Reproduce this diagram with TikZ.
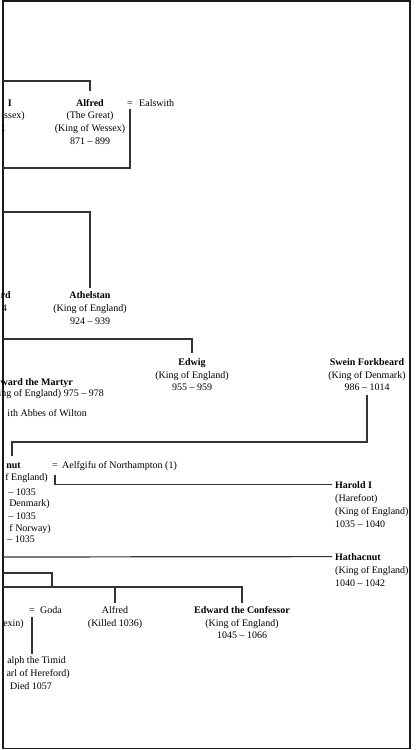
\documentclass[tikz,border=0pt]{standalone}
\usepackage{fontspec}
\setmainfont{Liberation Serif}
\usetikzlibrary{calc}
\newcommand\treefs{\fontsize{10}{12}\selectfont}
\tikzset{
  nm/.style={font=\bfseries\treefs, inner sep=0pt, anchor=base},
  tx/.style={font=\treefs, inner sep=0pt, anchor=base},
  con/.style={draw=black!80, line width=1.2pt},
  frame/.style={draw=black!90, line width=1.6pt},
}
\begin{document}
\begin{tikzpicture}[x=1pt,y=-1pt]
\useasboundingbox (0,0) rectangle (416,750);
\draw[frame] (3,1) rectangle (410,748.5);

% --- Ethelred I fragment
\node[nm, anchor=base east] (eth1) at (12,106) {I};
\node[tx, anchor=base east] (eth2) at (25,118.5) {ssex)};
\node[tx, anchor=base east] (eth3) at (6,131.5) {1};

% --- Alfred the Great
\node[nm] (alfred) at (90,106) {Alfred};
\node[tx] (alfred2) at (90,118.7) {(The Great)};
\node[tx] (alfred3) at (90,131.5) {(King of Wessex)};
\node[tx] (alfred4) at (90,144.2) {871 – 899};
\node[tx] (eq1) at (130,106) {=};
\node[tx, anchor=base west] (ealswith) at (139,106) {Ealswith};

% --- Athelstan row
\node[nm, anchor=base east] (edw1) at (11,298.5) {rd};
\node[tx, anchor=base east] (edw2) at (7,311.3) {4};
\node[nm] (athelstan) at (90,298.5) {Athelstan};
\node[tx] (athelstan2) at (90,311.3) {(King of England)};
\node[tx] (athelstan3) at (90,324) {924 – 939};

% --- Edwig / Swein row
\node[nm] (edwig) at (192,365) {Edwig};
\node[tx] (edwig2) at (192,378) {(King of England)};
\node[tx] (edwig3) at (192,390.5) {955 – 959};
\node[nm] (swein) at (367,365) {Swein Forkbeard};
\node[tx] (swein2) at (367,378) {(King of Denmark)};
\node[tx] (swein3) at (367,390.5) {986 – 1014};

% --- Edward the Martyr fragment
\node[nm, anchor=base east] (martyr1) at (73,385.2) {ward the Martyr};
\node[tx, anchor=base east] (martyr2) at (104,396.2) {ing of England) 975 – 978};
\node[tx, anchor=base east] (martyr3) at (87,416.2) {ith Abbes of Wilton};

% --- Cnut fragment
\node[nm, anchor=base east] (cnut) at (21,468.5) {nut};
\node[tx, anchor=base east] (cnut2) at (48,480) {f England)};
\node[tx, anchor=base east] (cnut3) at (36,495) {– 1035};
\node[tx, anchor=base east] (cnut4) at (50,506.5) {Denmark)};
\node[tx, anchor=base east] (cnut5) at (36,519) {– 1035};
\node[tx, anchor=base east] (cnut6) at (51,531.5) {f Norway)};
\node[tx, anchor=base east] (cnut7) at (35,542.5) {– 1035};
\node[tx] (eq2) at (55,468.5) {=};
\node[tx, anchor=base west] (aelfgifu) at (62,468.5) {Aelfgifu of Northampton (1)};

% --- Harold I
\node[nm, anchor=base west] (harold) at (335,488) {Harold I};
\node[tx, anchor=base west] (harold2) at (335,501) {(Harefoot)};
\node[tx, anchor=base west] (harold3) at (335,514) {(King of England)};
\node[tx, anchor=base west] (harold4) at (335,527) {1035 – 1040};

% --- Hathacnut
\node[nm, anchor=base west] (hath) at (335,560) {Hathacnut};
\node[tx, anchor=base west] (hath2) at (335,573.5) {(King of England)};
\node[tx, anchor=base west] (hath3) at (335,586.5) {1040 – 1042};

% --- bottom row
\node[tx, anchor=base east] (godw2) at (24,626.2) {exin)};
\node[tx] (eq3) at (32,613.5) {=};
\node[tx, anchor=base west] (goda) at (40,613.5) {Goda};
\node[tx, anchor=base east] (ralph1) at (66,663.5) {alph the Timid};
\node[tx, anchor=base east] (ralph2) at (70,676.5) {arl of Hereford)};
\node[tx] (ralph3) at (31,689.5) {Died 1057};
\node[tx] (alfredb) at (115,613.5) {Alfred};
\node[tx] (alfredb2) at (115,626.5) {(Killed 1036)};
\node[nm] (edward) at (242,613.5) {Edward the Confessor};
\node[tx] (edward2) at (242,626) {(King of England)};
\node[tx] (edward3) at (242,638.5) {1045 – 1066};

% --- coordinates on the frame
\coordinate (f1) at (3,81);
\coordinate (f2) at (3,168);
\coordinate (f3) at (3,212);
\coordinate (f4) at (3,339);
\coordinate (cb) at (12,442);
\coordinate (ct) at (12,456);
\coordinate (f5) at (3,557);
\coordinate (f6) at (3,573);
\coordinate (j1) at (52,587);
\coordinate (f7) at (3,587);
\coordinate (rt) at (32,654);

% --- connectors
\draw[con] (f1) -| ([yshift=7.5pt]alfred.north);
\draw[con] ([yshift=-3pt]eq1.south) |- (f2);
\draw[con] (f3) -| ([yshift=3.5pt]athelstan.north);
\draw[con] (f4) -| ([yshift=5pt]edwig.north);
\draw[con] ([yshift=-4.5pt]swein3.south) |- (cb) -- (ct);
\draw[con] ([yshift=-6.5pt]eq2.south) |- ([xshift=-3pt]harold.west);
\draw[con] (f5) -- ([xshift=-3pt]hath.west);
\draw[con] (f6) -| (j1);
\draw[con] (f7) -| ([yshift=3.5pt]edward.north);
\draw[con] (alfredb.north |- f7) -- ([yshift=3.5pt]alfredb.north);
\draw[con] ([yshift=-3.5pt]eq3.south) -- (rt);
\end{tikzpicture}
\end{document}
